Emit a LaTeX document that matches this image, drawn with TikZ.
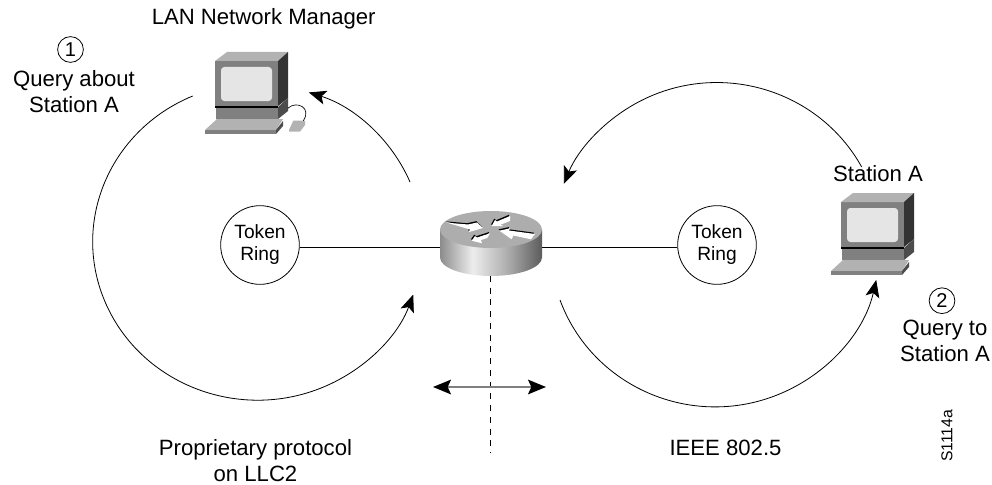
\documentclass[tikz,border=0pt]{standalone}
\usepackage{fontspec}
\setmainfont{Liberation Sans}
\usetikzlibrary{arrows.meta}

\definecolor{pctop}{gray}{0.70}
\definecolor{pcfront}{gray}{0.50}
\definecolor{pcside}{gray}{0.20}
\definecolor{pcbase}{gray}{0.30}
\definecolor{pcscreen}{gray}{0.90}
\definecolor{rtop}{gray}{0.68}
\definecolor{rsA}{gray}{0.55}
\definecolor{rsB}{gray}{0.93}
\definecolor{rsC}{gray}{0.68}
\definecolor{rsD}{gray}{0.36}

\pgfdeclarehorizontalshading{routerside}{100bp}{color(0bp)=(rsA); color(25bp)=(rsA); color(41bp)=(rsB); color(58bp)=(rsC); color(75bp)=(rsD); color(100bp)=(rsD)}

\newcommand{\routerarrow}[1]{
	\fill[black, shift={(-0.8,-1.3)}] #1 -- cycle;
	\fill[white] #1 -- cycle;
}

\tikzset{
	lbl/.style={font=\fontsize{16.6}{19.5}\selectfont, align=center, inner sep=0pt},
	ringlbl/.style={font=\fontsize{14.4}{16.5}\selectfont, align=center, inner sep=0pt},
	ring/.style={circle, draw, line width=0.6pt, minimum size=59pt, inner sep=0pt},
	numcirc/.style={circle, draw, line width=0.6pt, minimum size=19.3pt, inner sep=0pt, font=\fontsize{15}{15}\selectfont},
	flow/.style={line width=0.6pt, -{Stealth[length=13pt, width=10.5pt, inset=3pt]}},
	wire/.style={line width=0.75pt},
	dbl/.style={line width=1.2pt, draw=gray, <->, >={Stealth[length=13.5pt, width=11pt, inset=2.5pt, fill=black, color=black]}},
	pics/computer/.style={code={
		\fill[pcfront] (0,0) rectangle (63,45);
		\fill[pctop] (0,0) -- (12,-9) -- (73,-9) -- (63,0) -- cycle;
		\fill[pcside] (63,0) -- (73,-9) -- (73,37) -- (63,45) -- cycle;
		\fill[pcscreen, rounded corners=2.5pt] (6,6) rectangle (57,40);
		\fill[black] (0,45) rectangle (63,46.5);
		\fill[pcfront] (1,46.5) rectangle (63,58);
		\fill[pcbase] (63,46) -- (73,37) -- (73,50) -- (63,58) -- cycle;
		\fill[pctop] (-10,69) -- (2,58) -- (68,58) -- (61,69) -- cycle;
		\fill[pcfront] (-10,69) rectangle (61,73);
		\fill[pcbase] (61,69) -- (68,60) -- (68,65) -- (61,73) -- cycle;
	}}
}

\begin{document}
\begin{tikzpicture}[x=0.75pt, y=-0.75pt]
	\useasboundingbox (0,0) rectangle (992,485);

	\node[ring] (ring1) at (260,245) {};
	\node[ring] (ring2) at (717,245) {};
	\node[ringlbl] (ring1txt) at (260,245) {Token\\Ring};
	\node[ringlbl] (ring2txt) at (717,245) {Token\\Ring};

	% router
	\coordinate (rleft) at (440,247.3);
	\coordinate (rright) at (542,247.3);
	\coordinate (rbottom) at (490.5,276);
	\coordinate (dashend) at (490.5,453);
	\draw[wire] (ring1.east |- rleft) -- (rleft);
	\draw[wire] (rright) -- (ring2.west |- rright);
	\draw[line width=1pt, dash pattern=on 4.5pt off 4.3pt] (rbottom) -- (dashend);
	\shade[shading=routerside] (440,229.5) -- (440,257.5) arc[start angle=180, end angle=0, x radius=51, y radius=18.5] -- (542,229.5) -- cycle;
	\fill[rtop] (491,229.5) ellipse[x radius=51, y radius=18.5];
	\routerarrow{(447,222.7) -- (468,224.5) -- (477,222.5) -- (483,228) -- (469,232) -- (470,229.5)}
	\routerarrow{(491.7,226) -- (495,220) -- (497,221.5) -- (510,216) -- (510,221) -- (501,224.5) -- (503,226)}
	\routerarrow{(499.3,230.7) -- (510,228.3) -- (509,230.5) -- (535,234) -- (531,239.3) -- (513.3,235.5) -- (511.7,239.3)}
	\routerarrow{(471.7,240.7) -- (475,236) -- (477,237.5) -- (490,233.3) -- (487.3,238) -- (481,240) -- (482,243.3)}

	% computers
	\pic at (215,61) {computer};
	\pic at (841,202) {computer};
	\fill[pctop] (289,130) -- (293.3,120.7) -- (305,120.7) -- (305,125) -- (300,131.7) -- (289,131.7) -- cycle;
	\coordinate (cord1) at (287.7,108.3);
	\coordinate (cord2) at (303.3,120.7);
	\draw[line width=0.5pt] (cord1) .. controls (297,100) and (312,108) .. (cord2);

	% arcs
	\coordinate (c1) at (192.7,96);
	\coordinate (c2) at (410,182);
	\coordinate (c3) at (861.7,167);
	\coordinate (c4) at (560,300);
	\draw[flow] (c1) arc[start angle=246.8, end angle=19.5, x radius=165, y radius=158.5];
	\draw[flow] (c2) arc[start angle=-22.7, end angle=-72, x radius=165, y radius=158.5];
	\draw[flow] (c3) arc[start angle=-28.6, end angle=-158, x radius=165, y radius=162];
	\draw[flow] (c4) arc[start angle=160.1, end angle=12.5, x radius=165, y radius=162];

	% double arrow
	\coordinate (dl) at (433,387);
	\coordinate (dr) at (546,387);
	\draw[dbl] (dl) -- (dr);

	% labels
	\node[lbl] (lanlbl) at (263.7,18.5) {LAN Network Manager};
	\node[numcirc] (num1) at (70.5,49.5) {1};
	\node[lbl] (querylbl1) at (74,92) {Query about\\Station A};
	\node[lbl] (stalbl) at (878,174) {Station A};
	\node[numcirc] (num2) at (942,300.7) {2};
	\node[lbl] (querylbl2) at (945,340.7) {Query to\\Station A};
	\node[lbl] (protlbl) at (255.5,461) {Proprietary protocol\\on LLC2};
	\node[lbl] (ieeelbl) at (725.5,447.7) {IEEE 802.5};
	\node[lbl, rotate=90, font=\fontsize{11.8}{12}\selectfont] (idlbl) at (947,436) {S1114a};
\end{tikzpicture}
\end{document}
